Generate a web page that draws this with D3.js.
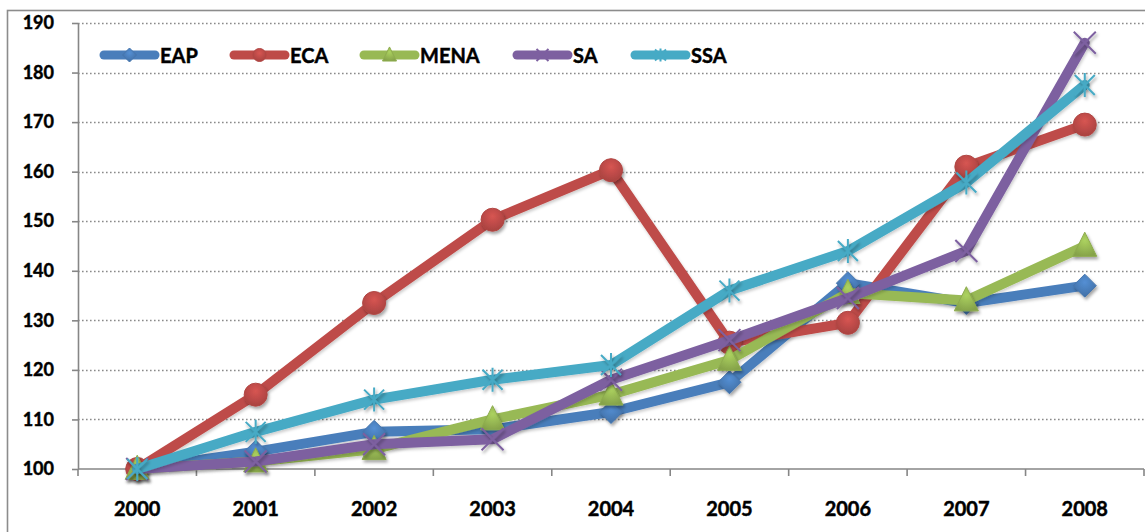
<!DOCTYPE html>
<html>
<head>
<meta charset="utf-8">
<script src="https://cdn.jsdelivr.net/npm/d3@7/dist/d3.min.js"></script>
<style>
  html, body { margin: 0; padding: 0; background: #fff; }
  svg { display: block; font-family: Lato, "Open Sans", sans-serif; font-weight: 700; }
  .lbl { stroke: #000; stroke-width: 0.45px; paint-order: stroke; }
</style>
</head>
<body>
<svg id="chart" width="1145" height="532"></svg>
<script>
// Index values (2000 = 100) by region
const years = ["2000", "2001", "2002", "2003", "2004", "2005", "2006", "2007", "2008"];
const seriesNames = ["EAP", "ECA", "MENA", "SA", "SSA"];
const eap  = [100, 103.5, 107.5, 108, 111.5, 117.5, 137.5, 133.5, 137];
const eca  = [100, 115, 133.5, 150.3, 160.3, 125.5, 129.5, 161, 169.5];
const mena = [100, 101.5, 104, 110, 115, 122, 135.5, 134, 145];
const sa   = [100, 101.5, 105, 106, 118, 126, 134.5, 144, 186];
const ssa  = [100, 107.5, 114, 118, 121, 136, 144, 157.8, 177.5];
const yTicks = [100, 110, 120, 130, 140, 150, 160, 170, 180, 190];

const colors = { EAP: "#4a7ebb", ECA: "#be4b48", MENA: "#98b954", SA: "#7d60a0", SSA: "#46aac5" };
const markerKind = { EAP: "diamond", ECA: "circle", MENA: "triangle", SA: "x", SSA: "star" };
const valuesBy = { EAP: eap, ECA: eca, MENA: mena, SA: sa, SSA: ssa };

const svg = d3.select("#chart");
const plot = { left: 78, right: 1144, top: 23, bottom: 469 };

const defs = svg.append("defs");
const shadow = defs.append("filter").attr("id", "shadow")
  .attr("x", "-50%").attr("y", "-50%").attr("width", "200%").attr("height", "200%");
shadow.append("feDropShadow").attr("dx", 1.5).attr("dy", 2.5).attr("stdDeviation", 1.8)
  .attr("flood-color", "#000").attr("flood-opacity", 0.35);
const lineShadow = defs.append("filter").attr("id", "lineShadow")
  .attr("x", "-10%").attr("y", "-10%").attr("width", "120%").attr("height", "120%");
lineShadow.append("feDropShadow").attr("dx", 1).attr("dy", 2).attr("stdDeviation", 1.5)
  .attr("flood-color", "#000").attr("flood-opacity", 0.2);

// radial gradients for round / filled markers
seriesNames.forEach(name => {
  const g = defs.append("radialGradient").attr("id", "grad-" + name)
    .attr("cx", "50%").attr("cy", "35%").attr("r", "65%");
  const c = d3.color(colors[name]);
  g.append("stop").attr("offset", "0%").attr("stop-color", c.brighter(0.35));
  g.append("stop").attr("offset", "100%").attr("stop-color", c.darker(0.35));
});

// outer frame
svg.append("rect").attr("x", 7.5).attr("y", 10.5).attr("width", 1150).attr("height", 540)
  .attr("fill", "none").attr("stroke", "#8c8c8c").attr("stroke-width", 1.6);

const x = d3.scaleBand().domain(years).range([plot.left, plot.right]).paddingInner(0).paddingOuter(0);
const y = d3.scaleLinear().domain([100, 190]).range([plot.bottom, plot.top]);
const cx = d => x(d) + x.bandwidth() / 2;

// dotted gridlines
svg.append("g").selectAll("line").data(yTicks.filter(t => t > 100)).join("line")
  .attr("x1", plot.left).attr("x2", plot.right + 2)
  .attr("y1", d => Math.round(y(d)) + 0.5).attr("y2", d => Math.round(y(d)) + 0.5)
  .attr("stroke", "#8a8a8a").attr("stroke-width", 1.3).attr("stroke-dasharray", "1.6,2.4");

// y axis
const yAxis = svg.append("g").attr("transform", `translate(${plot.left},0)`)
  .call(d3.axisLeft(y).tickValues(yTicks).tickSize(6).tickPadding(18).tickSizeOuter(0));
yAxis.select(".domain").attr("stroke", "#868686").attr("stroke-width", 1.6);
yAxis.selectAll(".tick line").attr("stroke", "#868686").attr("stroke-width", 1.6);
yAxis.selectAll(".tick text").attr("class", "lbl").attr("font-size", 18).attr("font-weight", 700)
  .attr("font-family", "Lato, sans-serif").attr("fill", "#000");

// x axis with tick marks at category boundaries
const xAxisG = svg.append("g").attr("transform", `translate(0,${plot.bottom})`);
xAxisG.append("line").attr("x1", plot.left).attr("x2", plot.right)
  .attr("stroke", "#868686").attr("stroke-width", 1.6);
const bounds = years.map(d => x(d)).concat([x(years[years.length - 1]) + x.bandwidth()]);
xAxisG.selectAll("line.tk").data(bounds).join("line").attr("class", "tk")
  .attr("x1", d => d).attr("x2", d => d).attr("y1", 0).attr("y2", 7)
  .attr("stroke", "#868686").attr("stroke-width", 1.6);
xAxisG.selectAll("text").data(years).join("text").attr("class", "lbl")
  .attr("x", d => cx(d)).attr("y", 47).attr("text-anchor", "middle")
  .attr("font-size", 20).attr("fill", "#000").text(d => d);

// marker shapes
function drawMarker(g, kind, name, px, py, s) {
  const col = colors[name];
  if (kind === "diamond") {
    g.append("path").attr("d", `M${px},${py - s}L${px + s},${py}L${px},${py + s}L${px - s},${py}Z`)
      .attr("fill", `url(#grad-${name})`).attr("stroke", d3.color(col).darker(0.2)).attr("stroke-width", 1);
  } else if (kind === "circle") {
    g.append("circle").attr("cx", px).attr("cy", py).attr("r", s)
      .attr("fill", `url(#grad-${name})`).attr("stroke", d3.color(col).darker(0.2)).attr("stroke-width", 1);
  } else if (kind === "triangle") {
    const h = s * 1.15;
    g.append("path").attr("d", `M${px},${py - h}L${px + s},${py + h * 0.75}L${px - s},${py + h * 0.75}Z`)
      .attr("fill", `url(#grad-${name})`).attr("stroke", d3.color(col).darker(0.2)).attr("stroke-width", 1);
  } else if (kind === "x") {
    g.append("path").attr("d", `M${px - s},${py - s}L${px + s},${py + s}M${px - s},${py + s}L${px + s},${py - s}`)
      .attr("stroke", col).attr("stroke-width", 2).attr("fill", "none");
  } else if (kind === "star") {
    g.append("path").attr("d", `M${px - s},${py - s}L${px + s},${py + s}M${px - s},${py + s}L${px + s},${py - s}M${px},${py - s * 1.2}L${px},${py + s * 1.2}`)
      .attr("stroke", col).attr("stroke-width", 2).attr("fill", "none");
  }
}

const markerSize = { diamond: 11.5, circle: 11.5, triangle: 12, x: 11, star: 10 };

const line = d3.line().x(d => cx(d.year)).y(d => y(d.value));
seriesNames.forEach(name => {
  const pts = years.map((yr, i) => ({ year: yr, value: valuesBy[name][i] }));
  const g = svg.append("g");
  g.append("path").datum(pts).attr("d", line).attr("fill", "none")
    .attr("stroke", colors[name]).attr("stroke-width", 10)
    .attr("stroke-linejoin", "round").attr("stroke-linecap", "round")
    .attr("filter", "url(#lineShadow)");
  const mg = g.append("g").attr("filter", "url(#shadow)");
  pts.forEach(p => drawMarker(mg, markerKind[name], name, cx(p.year), y(p.value), markerSize[markerKind[name]]));
});

// legend
const legendX = [100, 230, 360, 513, 631];
const legend = svg.append("g");
seriesNames.forEach((name, i) => {
  const lx = legendX[i], ly = 55;
  legend.append("line").attr("x1", lx + 4).attr("x2", lx + 55).attr("y1", ly).attr("y2", ly)
    .attr("stroke", colors[name]).attr("stroke-width", 9).attr("stroke-linecap", "round");
  const kind = markerKind[name];
  const small = { diamond: 7, circle: 6.5, triangle: 7, x: 6, star: 5.5 }[kind];
  drawMarker(legend, kind, name, lx + 29.5, ly, small);
  legend.append("text").attr("class", "lbl").attr("x", lx + 60).attr("y", ly + 7.5)
    .attr("font-size", 20).attr("fill", "#000").text(name);
});
</script>
</body>
</html>
